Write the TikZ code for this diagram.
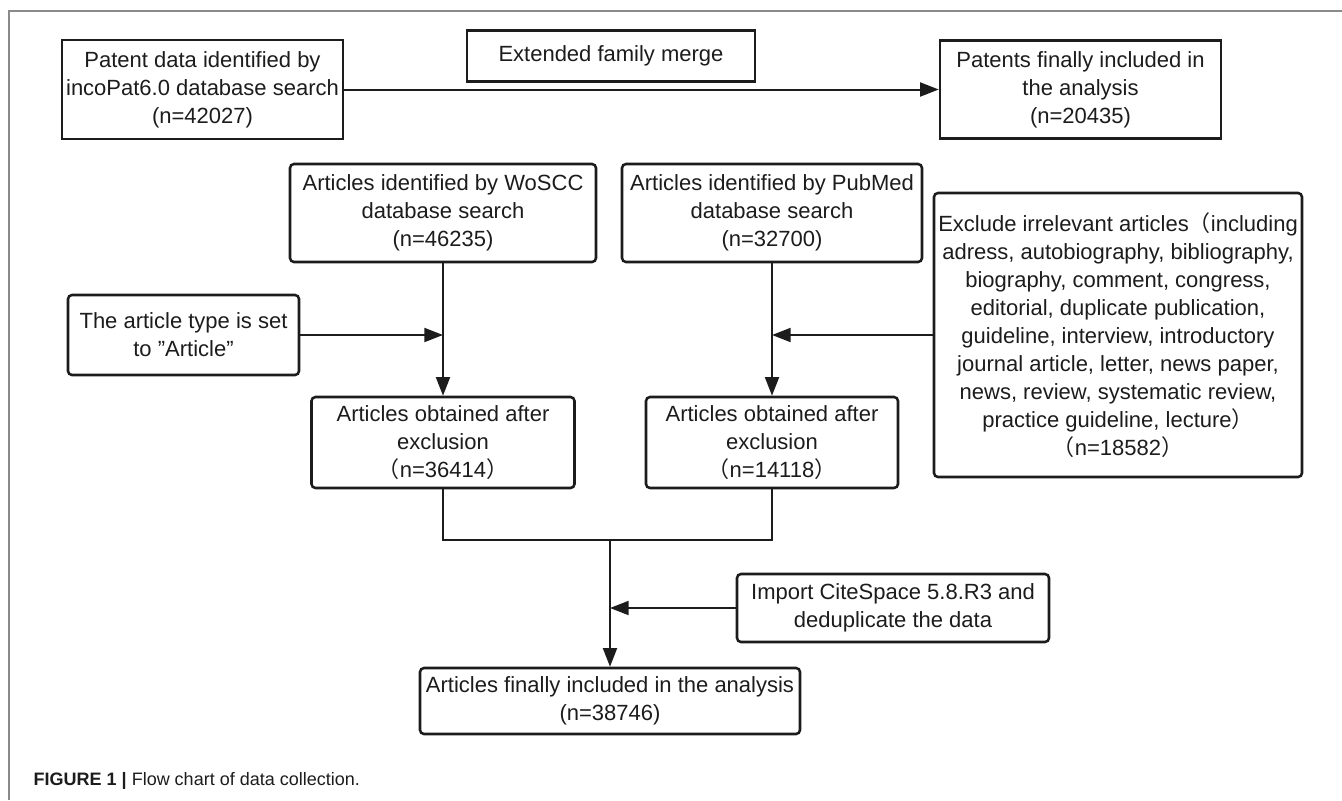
\documentclass[tikz,border=0pt]{standalone}
\usepackage{fontspec}
\setmainfont{Liberation Sans}
\newfontfamily\cjk{Noto Sans CJK SC}
\usetikzlibrary{arrows.meta}
\definecolor{ink}{HTML}{1C1C1C}
\definecolor{framecol}{HTML}{8A8A8A}
\begin{document}
\begin{tikzpicture}[x=0.75pt,y=-0.75pt,
  every node/.style={font=\fontsize{16.5pt}{21pt}\selectfont, text=ink},
  box/.style={draw=ink, line width=1.9pt, align=center, inner sep=0pt},
  rbox/.style={box, rounded corners=3pt},
  arr/.style={draw=ink, line width=1.5pt, -{Triangle[length=14pt,width=10.5pt]}},
  ln/.style={draw=ink, line width=1.5pt}]
\useasboundingbox (0,0) rectangle (1342,800);
\draw[framecol, line width=0.8pt] (1342,11) -- (9,11) -- (9,800);

\node[box, minimum width=281*0.75pt, minimum height=99*0.75pt] (patent) at (202.5,89.5)
  {Patent data identified by\\incoPat6.0 database search\\(n=42027)};
\node[box, line width=2.2pt, minimum width=288*0.75pt, minimum height=51*0.75pt] (merge) at (611,56)
  {Extended family merge};
\node[box, minimum width=281*0.75pt, minimum height=98*0.75pt] (finals) at (1080.5,89.5)
  {Patents finally included in\\the analysis\\(n=20435)};

\node[rbox, minimum width=306*0.75pt, minimum height=98*0.75pt] (woscc) at (443,213)
  {Articles identified by WoSCC\\database search\\(n=46235)};
\node[rbox, minimum width=300*0.75pt, minimum height=98*0.75pt] (pubmed) at (772,213)
  {Articles identified by PubMed\\database search\\(n=32700)};
\node[rbox, minimum width=368*0.75pt, minimum height=284*0.75pt] (exclude) at (1118,335)
  {Exclude irrelevant articles{\cjk （}including\\adress, autobiography, bibliography,\\biography, comment, congress,\\editorial, duplicate publication,\\guideline, interview, introductory\\journal article, letter, news paper,\\news, review, systematic review,\\practice guideline, lecture{\cjk ）}\\{\cjk （}n=18582{\cjk ）}};
\node[rbox, minimum width=231*0.75pt, minimum height=80*0.75pt] (arttype) at (183.5,335)
  {The article type is set\\to "Article"};
\node[rbox, minimum width=263*0.75pt, minimum height=91*0.75pt] (wosobt) at (443,442.5)
  {Articles obtained after\\exclusion\\{\cjk （}n=36414{\cjk ）}};
\node[rbox, minimum width=252*0.75pt, minimum height=91*0.75pt] (pubobt) at (772,442.5)
  {Articles obtained after\\exclusion\\{\cjk （}n=14118{\cjk ）}};
\node[rbox, minimum width=312*0.75pt, minimum height=68*0.75pt] (import) at (893,608)
  {Import CiteSpace 5.8.R3 and\\deduplicate the data};
\node[rbox, minimum width=380*0.75pt, minimum height=66*0.75pt] (final) at (610,701)
  {Articles finally included in the analysis\\(n=38746)};

\node[anchor=base west, font=\fontsize{13.5pt}{16pt}\selectfont] (cap) at (29,785)
  {\textbf{FIGURE 1} \textbf{|} Flow chart of data collection.};

\coordinate (mL) at (443,540);
\coordinate (mR) at (772,540);
\coordinate (mC) at (610,540);

\draw[arr] (patent.east) -- (patent.east -| finals.west);
\draw[arr] (woscc.south) -- (wosobt.north);
\draw[arr] (arttype.east) -- (arttype.east -| woscc.south);
\draw[arr] (pubmed.south) -- (pubobt.north);
\draw[arr] (exclude.west) -- (exclude.west -| pubmed.south);
\draw[ln] (wosobt.south) -- (mL) -- (mR) -- (pubobt.south);
\draw[arr] (mC) -- (final.north);
\draw[arr] (import.west) -- (import.west -| mC);
\end{tikzpicture}
\end{document}
